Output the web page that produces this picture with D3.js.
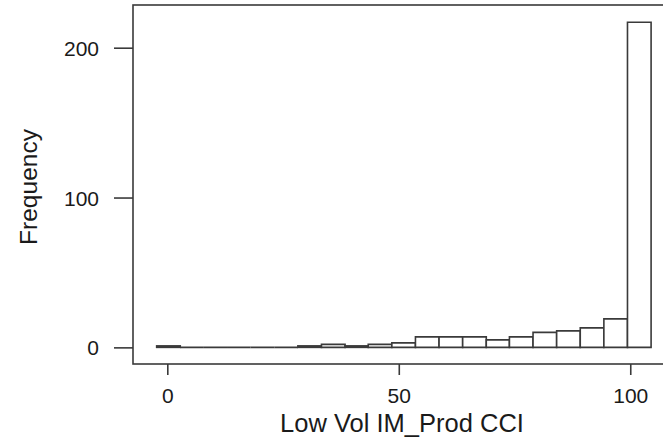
<!DOCTYPE html>
<html>
<head>
<meta charset="utf-8">
<script src="https://cdn.jsdelivr.net/npm/d3@7"></script>
<style>
  body { margin: 0; background: #fff; }
  svg { display: block; font-family: 'Liberation Sans', Arial, sans-serif; }
</style>
</head>
<body>
<div id="graph"></div>
<script>
'use strict'

// histogram bin edges (data units) and counts
const binEdges = [-2.3, 2.8, 7.9, 12.9, 18.0, 23.1, 28.2, 33.3, 38.4, 43.4, 48.5,
  53.6, 58.7, 63.8, 68.9, 73.9, 79.0, 84.1, 89.2, 94.3, 99.4, 104.5]
const counts = [1, 0, 0, 0, 0, 0, 1, 2, 1, 2, 3, 7, 7, 7, 5, 7, 10, 11, 13, 19, 217]
const xTicks = [0, 50, 100]
const yTicks = [0, 100, 200]

const bins = counts.map((c, i) => ({ x0: binEdges[i], x1: binEdges[i + 1], n: c }))

let cw = 663,
  ch = 439,
  margin = { top: 5, right: -8, bottom: 75, left: 133 },
  width = cw - margin.left - margin.right,
  height = ch - margin.top - margin.bottom,
  ink = '#3a3a3a',
  svg = d3.select('#graph').append('svg')
    .attr('width', cw)
    .attr('height', ch),
  g = svg.append('g')
    .attr('transform', `translate(${margin.left}, ${margin.top})`)

let x = d3.scaleLinear()
  .domain([-7.41, 108.8])
  .range([0, width])
let y = d3.scaleLinear()
  .domain([-11.1, 228.5])
  .range([height, 0])

// bars as closed paths so that empty bins still show as a line on zero
let barPath = d => {
  let p = d3.path()
  p.moveTo(x(d.x0), y(0))
  p.lineTo(x(d.x0), y(d.n))
  p.lineTo(x(d.x1), y(d.n))
  p.lineTo(x(d.x1), y(0))
  p.closePath()
  return p.toString()
}

g.selectAll('path.bar')
  .data(bins)
  .enter().append('path')
    .attr('class', 'bar')
    .attr('d', barPath)
    .attr('fill', '#fff')
    .attr('stroke', ink)
    .attr('stroke-width', 1.6)

// plot box
g.append('rect')
  .attr('x', 0)
  .attr('y', 0)
  .attr('width', width)
  .attr('height', height)
  .attr('fill', 'none')
  .attr('stroke', ink)
  .attr('stroke-width', 1.6)

let xAxis = g.append('g')
  .attr('transform', `translate(0, ${height})`)
  .call(d3.axisBottom(x).tickValues(xTicks).tickSize(11).tickPadding(13).tickFormat(d3.format('d')))
xAxis.select('.domain').remove()

let yAxis = g.append('g')
  .call(d3.axisLeft(y).tickValues(yTicks).tickSize(19).tickPadding(15).tickFormat(d3.format('d')))
yAxis.select('.domain').remove()

svg.selectAll('.tick line')
  .attr('stroke', ink)
  .attr('stroke-width', 1.6)
svg.selectAll('.tick text')
  .attr('fill', '#1a1a1a')
  .style('font-size', '21px')
  .style('font-family', "'Liberation Sans', Arial, sans-serif")
yAxis.selectAll('.tick text').attr('dy', '0.36em')

svg.append('text')
  .attr('x', margin.left + width / 2)
  .attr('y', 432)
  .attr('text-anchor', 'middle')
  .attr('fill', '#1a1a1a')
  .style('font-size', '25.5px')
  .text('Low Vol IM_Prod CCI')

svg.append('text')
  .attr('transform', `translate(37, ${margin.top + 182}) rotate(-90)`)
  .attr('text-anchor', 'middle')
  .attr('fill', '#1a1a1a')
  .style('font-size', '24.5px')
  .text('Frequency')
</script>
</body>
</html>
